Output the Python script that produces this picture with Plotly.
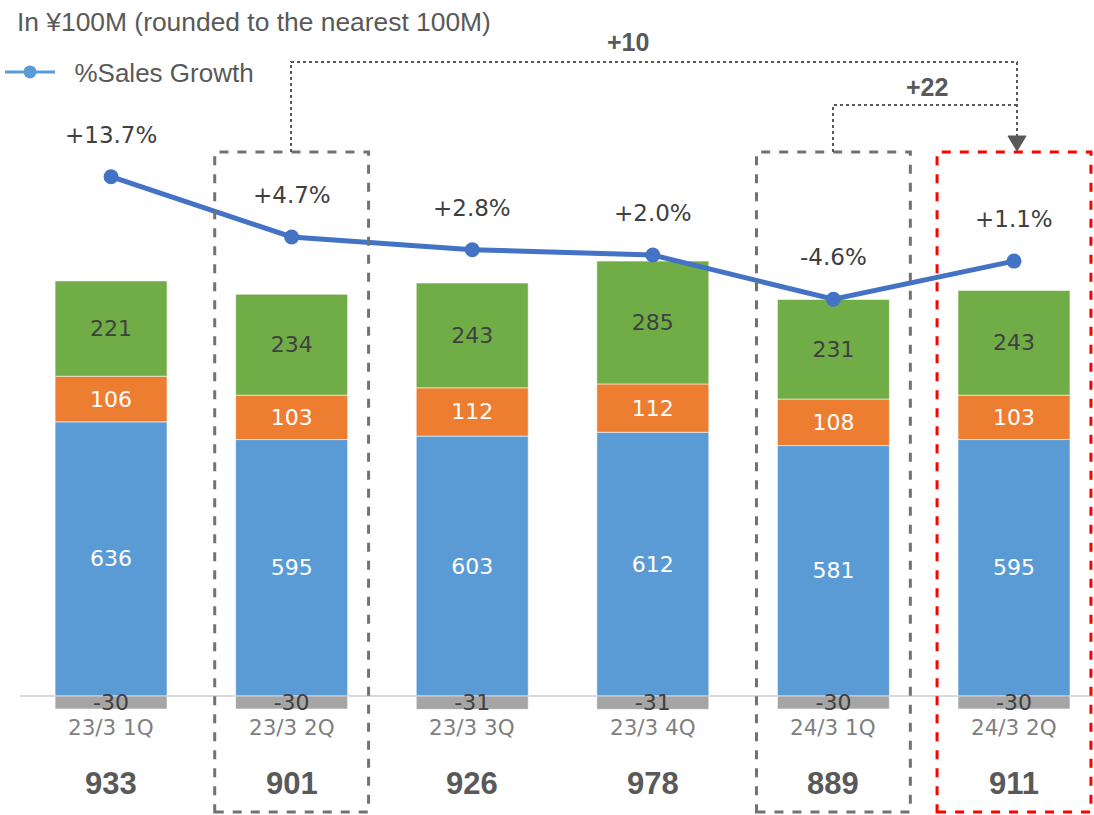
import plotly.graph_objects as go

# ---------------- data ----------------
categories = ["23/3 1Q", "23/3 2Q", "23/3 3Q", "23/3 4Q", "24/3 1Q", "24/3 2Q"]
seg_blue = [636, 595, 603, 612, 581, 595]
seg_orange = [106, 103, 112, 112, 108, 103]
seg_green = [221, 234, 243, 285, 231, 243]
seg_gray = [-30, -30, -31, -31, -30, -30]
totals = [933, 901, 926, 978, 889, 911]
growth = [13.7, 4.7, 2.8, 2.0, -4.6, 1.1]
diff_labels = ["+10", "+22"]
unit_note = "In ¥100M (rounded to the nearest 100M)"
legend_name = "%Sales Growth"

# ---------------- geometry helpers ----------------
W, H = 1094, 815
def px(x):
    return x / W
def py(y):
    return 1 - y / H

xs = list(range(len(categories)))
NUM_FONT = "DejaVu Sans"
TXT_FONT = "Liberation Sans, Arial, sans-serif"

fig = go.Figure()

def add_bar(vals, color, txtcolor):
    fig.add_trace(go.Bar(
        x=xs, y=vals, marker=dict(color=color, line=dict(color="rgba(255,255,255,0.55)", width=1)),
        text=[str(v) for v in vals], textposition="inside", insidetextanchor="middle",
        constraintext="none", textangle=0,
        textfont=dict(family=NUM_FONT, size=22, color=txtcolor),
        showlegend=False, hoverinfo="skip"))

add_bar(seg_blue, "#5B9BD5", "white")
add_bar(seg_orange, "#ED7D31", "white")
add_bar(seg_green, "#70AD47", "#404040")
add_bar(seg_gray, "#A5A5A5", "#404040")

fig.add_trace(go.Scatter(
    x=xs, y=growth, yaxis="y2", mode="lines+markers",
    line=dict(color="#4472C4", width=5), marker=dict(color="#4472C4", size=15),
    showlegend=False, hoverinfo="skip"))
# legend entry
fig.add_trace(go.Scatter(
    x=[None], y=[None], yaxis="y2", mode="lines+markers", name="\u00a0\u00a0" + legend_name,
    line=dict(color="#5B9BD5", width=3), marker=dict(color="#5B9BD5", size=13)))

annotations = []
for i, g in enumerate(growth):
    annotations.append(dict(x=i, y=g, xref="x", yref="y2", yshift=42, showarrow=False,
                            xanchor="center",
                            text=f"{g:+.1f}%", font=dict(family=NUM_FONT, size=23, color="#404040")))
for i, c in enumerate(categories):
    annotations.append(dict(x=i, y=py(727), xref="x", yref="paper", showarrow=False, text=c,
                            xanchor="center", yanchor="middle",
                            font=dict(family=NUM_FONT, size=21.5, color="#7F7F7F")))
for i, t in enumerate(totals):
    annotations.append(dict(x=i, y=py(783), xref="x", yref="paper", showarrow=False,
                            text=f"<b>{t}</b>", xanchor="center", yanchor="middle",
                            font=dict(family=TXT_FONT, size=31, color="#595959")))
annotations.append(dict(x=px(15), y=py(22), xref="paper", yref="paper", showarrow=False,
                        xanchor="left", yanchor="middle", text=unit_note,
                        font=dict(family=TXT_FONT, size=26.4, color="#595959")))
annotations.append(dict(x=px(628), y=py(42), xref="paper", yref="paper", showarrow=False,
                        text=f"<b>{diff_labels[0]}</b>", xanchor="center", yanchor="middle",
                        font=dict(family=TXT_FONT, size=25, color="#595959")))
annotations.append(dict(x=px(927), y=py(87), xref="paper", yref="paper", showarrow=False,
                        text=f"<b>{diff_labels[1]}</b>", xanchor="center", yanchor="middle",
                        font=dict(family=TXT_FONT, size=25, color="#595959")))

shapes = []
# zero line
shapes.append(dict(type="line", xref="paper", yref="y", x0=px(20), x1=1, y0=0, y1=0,
                   line=dict(color="#D9D9D9", width=2), layer="below"))
# highlight boxes
for i, col in [(1, "#767171"), (4, "#767171"), (5, "#FF0000")]:
    shapes.append(dict(type="rect", xref="x", yref="paper", x0=i - 0.426, x1=i + 0.426,
                       y0=py(812), y1=py(152), line=dict(color=col, width=3, dash="dash")))
# connectors
def path(points):
    s = "M " + " L ".join(f"{px(a):.5f},{py(b):.5f}" for a, b in points)
    return s
shapes.append(dict(type="path", xref="paper", yref="paper",
                   path=path([(291, 152), (291, 62), (1017, 62), (1017, 138)]),
                   line=dict(color="#595959", width=2, dash="dot")))
shapes.append(dict(type="path", xref="paper", yref="paper",
                   path=path([(833, 152), (833, 105), (1017, 105)]),
                   line=dict(color="#595959", width=2, dash="dot")))
shapes.append(dict(type="path", xref="paper", yref="paper",
                   path=path([(1008, 136), (1026, 136), (1017, 151)]) + " Z",
                   fillcolor="#595959", line=dict(color="#595959", width=1)))

fig.update_layout(
    width=W, height=H, margin=dict(l=0, r=0, t=0, b=0),
    paper_bgcolor="white", plot_bgcolor="white",
    barmode="relative", bargap=0.38,
    xaxis=dict(range=[-0.615, 5.443], visible=False),
    yaxis=dict(range=[-276.1, 1614.8], visible=False),
    yaxis2=dict(range=[-81.57, 40.07], overlaying="y", visible=False),
    legend=dict(x=px(0), y=py(72), xanchor="left", yanchor="middle", itemwidth=50,
                font=dict(family=TXT_FONT, size=26, color="#595959"), bgcolor="rgba(0,0,0,0)"),
    annotations=annotations, shapes=shapes,
)

fig.write_html("out.html")
